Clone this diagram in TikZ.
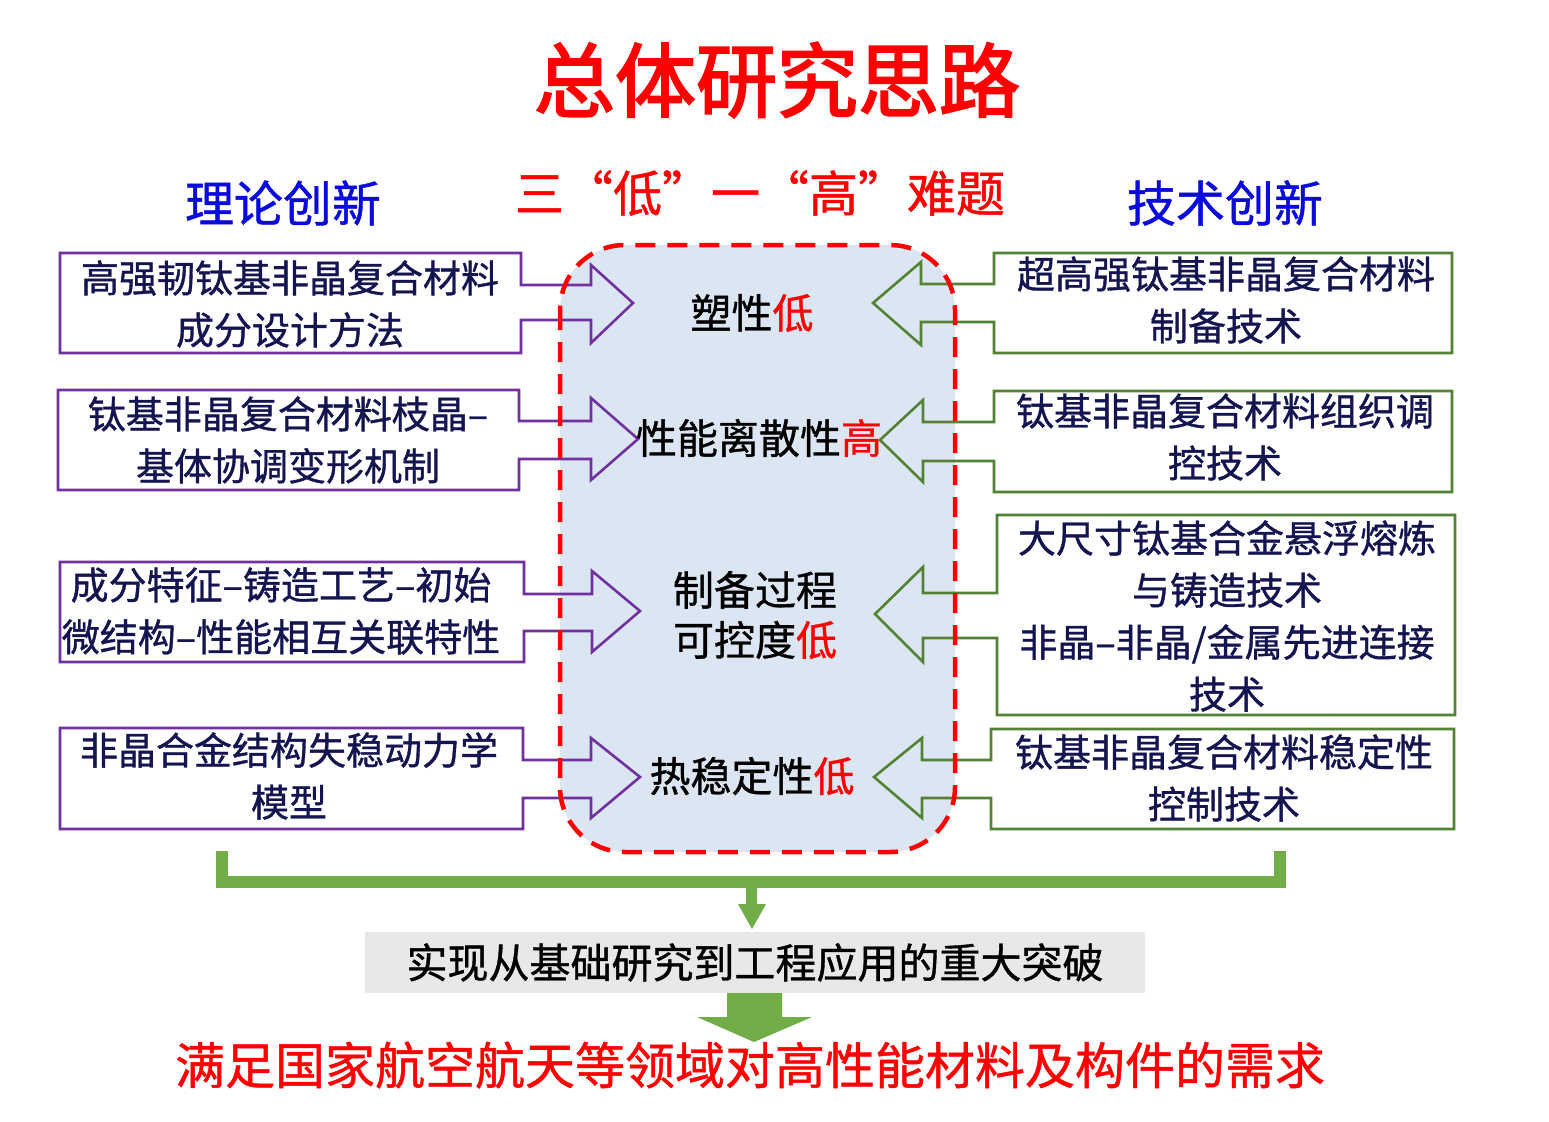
\documentclass[tikz,border=0pt]{standalone}
\usepackage{fontspec}
\setmainfont[AutoFakeBold=2.5]{Noto Sans CJK SC}
\newfontfamily\medcjk[FakeBold=0.9]{Noto Sans CJK SC}
\definecolor{ttlred}{RGB}{255,0,0}
\definecolor{hdblue}{RGB}{10,10,220}
\definecolor{navy}{RGB}{20,20,80}
\definecolor{purp}{RGB}{112,48,160}
\definecolor{dgreen}{RGB}{84,130,53}
\definecolor{lgreen}{RGB}{112,173,71}
\definecolor{cfill}{RGB}{220,230,242}
\definecolor{gbox}{RGB}{232,232,232}
\newcommand{\hdash}{–}
\tikzset{
  boxtext/.style={inner sep=0pt, align=center, text=navy, font=\medcjk\fontsize{38}{52}\selectfont},
  ctrtext/.style={inner sep=0pt, align=center, text=black, font=\medcjk\fontsize{41}{50}\selectfont},
  hdtext/.style={inner sep=0pt, font=\medcjk\fontsize{49}{55}\selectfont},
  leftarr/.style={draw=purp, line width=2.6pt, line join=miter},
  rightarr/.style={draw=dgreen, line width=2.6pt, line join=miter},
}
\begin{document}
\begin{tikzpicture}[x=1pt,y=-1pt]
\useasboundingbox (0,0) rectangle (1549,1121);
\fill[white] (0,0) rectangle (1549,1121);

% title
\node[inner sep=0pt, text=ttlred, font=\fontsize{81}{90}\selectfont\bfseries] (title) at (777,80) {总体研究思路};
\node[hdtext, text=hdblue] (h1) at (283,203) {理论创新};
\node[hdtext, text=ttlred] (h2) at (760,193) {三“低”一“高”难题};
\node[hdtext, text=hdblue] (h3) at (1225,203) {技术创新};

% central rounded box fill
\fill[cfill, rounded corners=65pt] (560,245) rectangle (955,852);

% left boxes with arrows
\draw[leftarr] (521,253) -- (60,253) -- (60,353) -- (521,353) -- (521,320) -- (591,320) -- (591,343) -- (633,303) -- (591,265) -- (591,285) -- (521,285) -- cycle;
\draw[leftarr] (519,390) -- (58,390) -- (58,490) -- (519,490) -- (519,459) -- (591,459) -- (591,480) -- (638,439) -- (591,398) -- (591,421) -- (519,421) -- cycle;
\draw[leftarr] (524,562) -- (60,562) -- (60,662) -- (524,662) -- (524,631) -- (592,631) -- (592,652) -- (640,611) -- (592,571) -- (592,594) -- (524,594) -- cycle;
\draw[leftarr] (523,728) -- (60,728) -- (60,829) -- (523,829) -- (523,798) -- (591,798) -- (591,818) -- (640,777) -- (591,738) -- (591,760) -- (523,760) -- cycle;

% right boxes with arrows
\draw[rightarr] (994,253) -- (1452,253) -- (1452,353) -- (994,353) -- (994,322) -- (921,322) -- (921,345) -- (873,303) -- (921,262) -- (921,284) -- (994,284) -- cycle;
\draw[rightarr] (994,391) -- (1452,391) -- (1452,492) -- (994,492) -- (994,461) -- (923,461) -- (923,482) -- (880,440) -- (923,400) -- (923,422) -- (994,422) -- cycle;
\draw[rightarr] (997,515) -- (1455,515) -- (1455,715) -- (997,715) -- (997,638) -- (923,638) -- (923,662) -- (875,614) -- (923,567) -- (923,593) -- (997,593) -- cycle;
\draw[rightarr] (991,729) -- (1454,729) -- (1454,829) -- (991,829) -- (991,798) -- (922,798) -- (922,818) -- (874,777) -- (922,738) -- (922,760) -- (991,760) -- cycle;

% central dashed border
\draw[ttlred, line width=4.5pt, dash pattern=on 20pt off 12pt, rounded corners=65pt] (560,245) rectangle (955,852);

% left texts
\node[boxtext] (L1) at (290,304) {高强韧钛基非晶复合材料\\成分设计方法};
\node[boxtext] (L2) at (288,440) {钛基非晶复合材料枝晶\hdash\\基体协调变形机制};
\node[boxtext] (L3) at (281,611) {成分特征\hdash 铸造工艺\hdash 初始\\微结构\hdash 性能相互关联特性};
\node[boxtext] (L4) at (289,776) {非晶合金结构失稳动力学\\模型};

% right texts
\node[boxtext] (R1) at (1226,300) {超高强钛基非晶复合材料\\制备技术};
\node[boxtext] (R2) at (1225,437) {钛基非晶复合材料组织调\\控技术};
\node[boxtext] (R3) at (1227,616) {大尺寸钛基合金悬浮熔炼\\与铸造技术\\非晶\hdash 非晶/金属先进连接\\技术};
\node[boxtext] (R4) at (1224,778) {钛基非晶复合材料稳定性\\控制技术};

% center texts
\node[ctrtext] (C1) at (752,313) {塑性\textcolor{ttlred}{低}};
\node[ctrtext] (C2) at (759,438) {性能离散性\textcolor{ttlred}{高}};
\node[ctrtext] (C3) at (755,615) {制备过程\\可控度\textcolor{ttlred}{低}};
\node[ctrtext] (C4) at (752,776) {热稳定性\textcolor{ttlred}{低}};

% bottom bracket
\draw[lgreen, line width=12pt, line cap=butt, line join=miter] (222,851) -- (222,882) -- (1280,882) -- (1280,851);
\fill[lgreen] (746,886) -- (757,886) -- (757,904) -- (766,904) -- (752,929) -- (738,904) -- (746,904) -- cycle;

% gray result box
\node[fill=gbox, inner sep=0pt, minimum width=780pt, minimum height=61pt, text=black, font=\medcjk\fontsize{41}{50}\selectfont] (G) at (755,962.5) {实现从基础研究到工程应用的重大突破};

% big green block arrow
\fill[lgreen] (727,993) -- (782,993) -- (782,1017) -- (812,1017) -- (754,1042) -- (697,1017) -- (727,1017) -- cycle;

% final text
\node[inner sep=0pt, text=ttlred, font=\medcjk\fontsize{50}{55}\selectfont] (F) at (750,1065) {满足国家航空航天等领域对高性能材料及构件的需求};
\end{tikzpicture}
\end{document}
